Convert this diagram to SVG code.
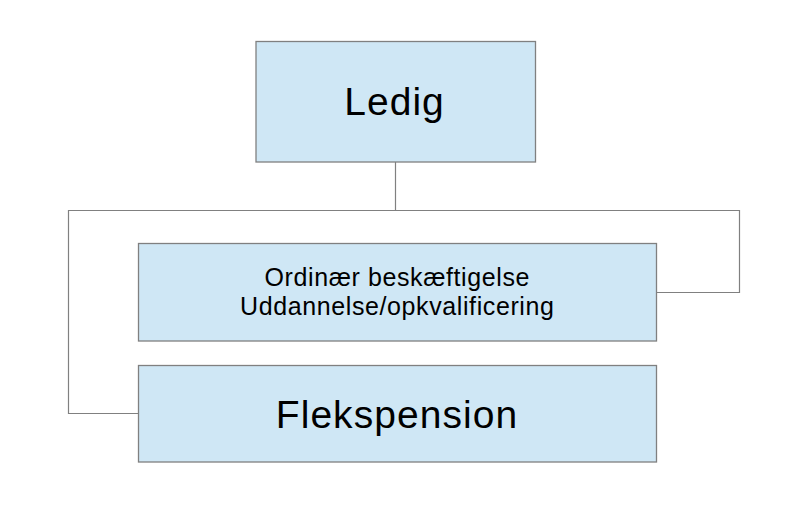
<svg xmlns="http://www.w3.org/2000/svg" width="794" height="510" viewBox="0 0 794 510">
<style>
.box{fill:#cfe7f5;stroke:#808080;stroke-width:1.3}
.conn{fill:none;stroke:#808080;stroke-width:1.2}
text{font-family:"Liberation Sans",Arial,sans-serif;fill:#000;text-anchor:middle}
.big{font-size:39px;letter-spacing:1.05px}
.small{font-size:25px;letter-spacing:0.6px}
</style>
<rect width="794" height="510" fill="#fff"/>
<g id="connectors">
<path class="conn" d="M395.5 162V210.5H68.5V413.5H138.5"/>
<path class="conn" d="M395.5 210.5H739.5V292.5H656.5"/>
</g>
<g id="ledig">
<rect class="box" x="256" y="41.5" width="279.5" height="120.5"/>
<text class="big" x="394.5" y="114.5">Ledig</text>
</g>
<g id="ordinaer">
<rect class="box" x="138.5" y="243.5" width="518" height="97.5"/>
<text class="small" x="397.3" y="286">Ordinær beskæftigelse</text>
<text class="small" x="397.3" y="315">Uddannelse/opkvalificering</text>
</g>
<g id="fleks">
<rect class="box" x="138.5" y="365.5" width="518" height="96.5"/>
<text class="big" x="397" y="427.5">Flekspension</text>
</g>
</svg>
